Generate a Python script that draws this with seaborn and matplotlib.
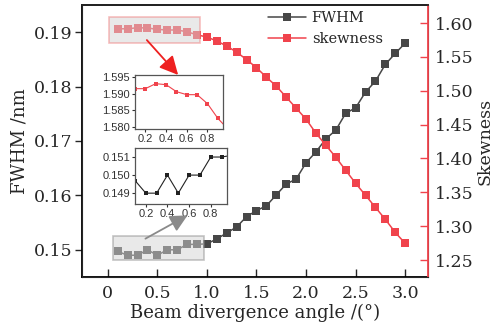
import numpy as np
import pandas as pd
import seaborn as sns
import matplotlib.pyplot as plt
from matplotlib.patches import Rectangle, FancyArrowPatch
from matplotlib.lines import Line2D

# data
angle = [0.1, 0.2, 0.3, 0.4, 0.5, 0.6, 0.7, 0.8, 0.9, 1.0,
         1.1, 1.2, 1.3, 1.4, 1.5, 1.6, 1.7, 1.8, 1.9, 2.0,
         2.1, 2.2, 2.3, 2.4, 2.5, 2.6, 2.7, 2.8, 2.9, 3.0]
fwhm = [0.1497, 0.1490, 0.1490, 0.1500, 0.1490, 0.1500, 0.1500, 0.1510, 0.1510, 0.1511,
        0.1520, 0.1531, 0.1542, 0.1561, 0.1572, 0.1581, 0.1601, 0.1621, 0.1630, 0.1660,
        0.1680, 0.1704, 0.1720, 0.1751, 0.1761, 0.1790, 0.1810, 0.1841, 0.1861, 0.1880]
skewness = [1.5915, 1.5915, 1.5930, 1.5927, 1.5906, 1.5897, 1.5897, 1.5870, 1.5826, 1.5793,
            1.5734, 1.5660, 1.5570, 1.5460, 1.5340, 1.5200, 1.5068, 1.4905, 1.4743, 1.4580,
            1.4373, 1.4195, 1.4018, 1.3825, 1.3633, 1.3456, 1.3278, 1.3100, 1.2908, 1.2746]

df = pd.DataFrame({"angle": angle, "fwhm": fwhm, "skewness": skewness})

sns.set_style("ticks")
plt.rcParams["font.family"] = ["DejaVu Serif"]

GRAY = "#474747"
RED = "#f0434c"
W, H = 498, 329


def fbox(l, t, r, b):
    return [l / W, 1 - b / H, (r - l) / W, (b - t) / H]


def fp(x, y):
    return (x / W, 1 - y / H)


fig = plt.figure(figsize=(4.98, 3.29), dpi=100)
ax = fig.add_axes(fbox(82, 5, 428, 277))
ax2 = ax.twinx()

sns.lineplot(data=df, x="angle", y="fwhm", ax=ax, color=GRAY, marker="s",
             markersize=5.5, markeredgewidth=0, linewidth=1.1)
sns.lineplot(data=df, x="angle", y="skewness", ax=ax2, color=RED, marker="s",
             markersize=5.5, markeredgewidth=0, linewidth=1.1)

ax.set_xlim(-0.26, 3.23)
ax.set_ylim(0.145, 0.195)
ax2.set_ylim(1.225, 1.6266)
ax.set_xticks([0, 0.5, 1.0, 1.5, 2.0, 2.5, 3.0])
ax.set_xticklabels(["0", "0.5", "1.0", "1.5", "2.0", "2.5", "3.0"])
ax.set_yticks([0.15, 0.16, 0.17, 0.18, 0.19])
ax2.set_yticks([1.25, 1.30, 1.35, 1.40, 1.45, 1.50, 1.55, 1.60])
ax2.set_yticklabels([f"{v:.2f}" for v in [1.25, 1.30, 1.35, 1.40, 1.45, 1.50, 1.55, 1.60]])

ax.set_xlabel("Beam divergence angle /(°)", fontsize=13, labelpad=1)
ax.set_ylabel("FWHM /nm", fontsize=13, labelpad=4)
ax2.set_ylabel("Skewness", fontsize=12.5, labelpad=2)

ax.tick_params(axis="x", direction="in", length=6, width=1, labelsize=12.5, pad=6)
ax.tick_params(axis="y", direction="out", length=5, width=1, labelsize=12.5, pad=2)
ax2.tick_params(axis="y", direction="in", length=6, width=1, labelsize=12.5,
                color=RED, pad=5)
for s in ["left", "bottom", "top"]:
    ax.spines[s].set_linewidth(1.3)
    ax.spines[s].set_color("black")
ax2.spines["right"].set_color(RED)
ax2.spines["right"].set_linewidth(1.3)
ax2.spines["top"].set_linewidth(1.3)

handles = [Line2D([], [], color=GRAY, marker="s", markersize=5.5, markeredgewidth=0, lw=1.1),
           Line2D([], [], color=RED, marker="s", markersize=5.5, markeredgewidth=0, lw=1.1)]
leg = ax2.legend(handles, ["FWHM", "skewness"], loc="upper left",
                 bbox_to_anchor=fp(265, 8), bbox_transform=fig.transFigure,
                 fontsize=10.5, frameon=True, framealpha=1, edgecolor="none",
                 fancybox=False, handlelength=2.6, handletextpad=0.4,
                 labelspacing=0.5, borderpad=0.2, borderaxespad=0)

# highlight boxes over the first points
fig.patches.append(Rectangle(fp(109, 43), 91 / W, 26 / H, transform=fig.transFigure,
                             facecolor="#d4d4d4", alpha=0.5, edgecolor="#f08080",
                             linewidth=1.2, zorder=10))
fig.patches.append(Rectangle(fp(113, 260), 91 / W, 24 / H, transform=fig.transFigure,
                             facecolor="#d4d4d4", alpha=0.5, edgecolor="#8c8c8c",
                             linewidth=1.2, zorder=10))

# arrows
fig.patches.append(FancyArrowPatch(fp(145, 38), fp(180, 77), transform=fig.transFigure,
                                   arrowstyle="-|>", mutation_scale=28, color="#ee2020",
                                   linewidth=1.3, zorder=11))
fig.patches.append(FancyArrowPatch(fp(143, 240), fp(190, 214), transform=fig.transFigure,
                                   arrowstyle="-|>", mutation_scale=26, color="#8a8a8a",
                                   linewidth=1.3, zorder=11))

# insets
ins1 = fig.add_axes(fbox(135, 75, 223, 129))
ins2 = fig.add_axes(fbox(135, 148, 227, 204))
sub = df[df["angle"] <= 1.0]
sns.lineplot(data=sub, x="angle", y="skewness", ax=ins1, color=RED, marker="s",
             markersize=2.2, markeredgewidth=0, linewidth=0.8)
sns.lineplot(data=sub, x="angle", y="fwhm", ax=ins2, color="#222222", marker="s",
             markersize=2.2, markeredgewidth=0, linewidth=0.8)
ins1.set_xlim(0.1, 0.95)
ins1.set_ylim(1.5794, 1.5956)
ins1.set_yticks([1.580, 1.585, 1.590, 1.595])
ins1.set_yticklabels(["1.580", "1.585", "1.590", "1.595"])
ins2.set_xlim(0.1, 0.95)
ins2.set_ylim(0.1484, 0.1515)
ins2.set_yticks([0.149, 0.150, 0.151])
ins2.set_yticklabels(["0.149", "0.150", "0.151"])
for a in (ins1, ins2):
    a.set_xticks([0.2, 0.4, 0.6, 0.8])
    a.set_xticklabels(["0.2", "0.4", "0.6", "0.8"])
    a.set_xlabel("")
    a.set_ylabel("")
    a.patch.set_facecolor("white")
    for s in a.spines.values():
        s.set_color("#555555")
        s.set_linewidth(0.9)
    a.tick_params(length=2.5, width=0.8, pad=1, labelsize=8, colors="#333333")
    for lab in a.get_xticklabels() + a.get_yticklabels():
        lab.set_family(["Liberation Sans", "DejaVu Sans"])

fig.savefig("out.png", dpi=100)
